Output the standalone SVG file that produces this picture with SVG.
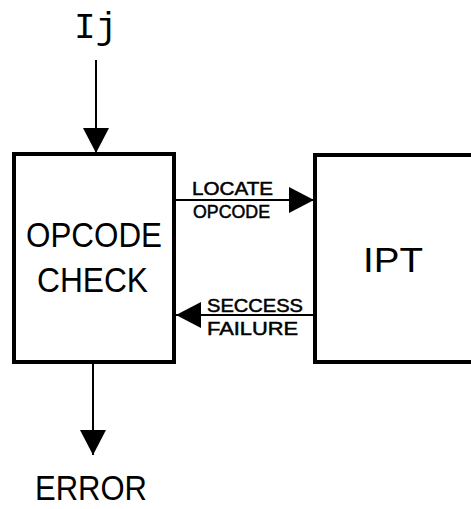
<svg xmlns="http://www.w3.org/2000/svg" width="471" height="509" viewBox="0 0 471 509">
<style>
.box{fill:#fff;stroke:#000;stroke-width:4}
.conn{stroke:#000;stroke-width:2;fill:none}
.big{font-family:"Liberation Sans",Arial,sans-serif;font-size:35px;fill:#000}
.mono{font-family:"Liberation Mono","Courier New",monospace;font-size:36px;fill:#000}
.small{font-family:"Liberation Sans",Arial,sans-serif;font-size:18px;fill:#000;stroke:#000;stroke-width:0.5}
</style>
<defs>
<marker id="ah" markerUnits="userSpaceOnUse" markerWidth="26" markerHeight="26" viewBox="0 0 26 26" refX="25" refY="13" orient="auto">
<path d="M0,0 L25,13 L0,26 z" fill="#000"/>
</marker>
</defs>
<rect width="471" height="509" fill="#fff"/>
<g id="opcode-check">
<rect class="box" x="14" y="154" width="160" height="208"/>
<text class="big" x="26" y="247" textLength="136" lengthAdjust="spacingAndGlyphs">OPCODE</text>
<text class="big" x="37" y="292" textLength="111" lengthAdjust="spacingAndGlyphs">CHECK</text>
</g>
<g id="ipt">
<rect class="box" x="315" y="155" width="200" height="207"/>
<text class="big" x="363" y="272" textLength="60" lengthAdjust="spacingAndGlyphs">IPT</text>
</g>
<g id="input-label">
<text class="mono" x="74" y="38">Ij</text>
</g>
<g id="error-label">
<text class="big" x="35" y="500" textLength="112" lengthAdjust="spacingAndGlyphs">ERROR</text>
</g>
<g id="connectors">
<line class="conn" x1="96" y1="60" x2="96" y2="153" marker-end="url(#ah)"/>
<line class="conn" x1="93" y1="364" x2="93" y2="455" marker-end="url(#ah)"/>
<line class="conn" x1="176" y1="200" x2="314" y2="200" marker-end="url(#ah)"/>
<line class="conn" x1="314" y1="315" x2="176" y2="315" marker-end="url(#ah)"/>
<text class="small" x="192" y="195" textLength="81" lengthAdjust="spacingAndGlyphs">LOCATE</text>
<text class="small" x="193" y="218" textLength="77" lengthAdjust="spacingAndGlyphs">OPCODE</text>
<text class="small" x="207" y="312" textLength="96" lengthAdjust="spacingAndGlyphs">SECCESS</text>
<text class="small" x="207" y="335" textLength="91" lengthAdjust="spacingAndGlyphs">FAILURE</text>
</g>
</svg>
